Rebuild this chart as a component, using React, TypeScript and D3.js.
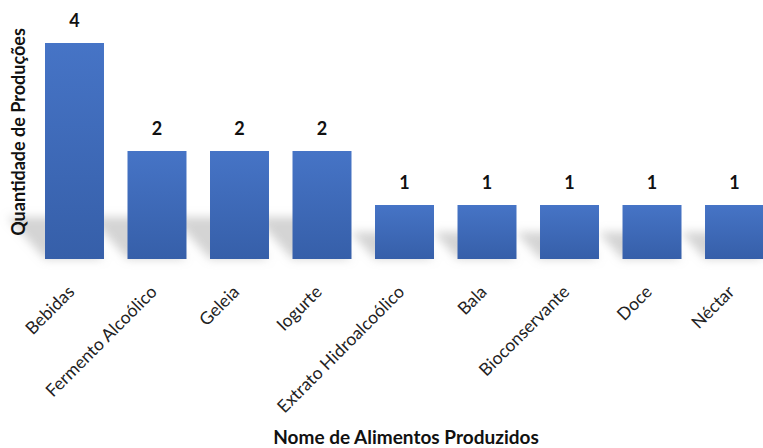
import React from "react";
import * as d3 from "d3";

const categories = ["Bebidas", "Fermento Alcoólico", "Geleia", "Iogurte", "Extrato Hidroalcoólico", "Bala", "Bioconservante", "Doce", "Néctar"];
const values = [4, 2, 2, 2, 1, 1, 1, 1, 1];
const yTitle = "Quantidade de Produções";
const xTitle = "Nome de Alimentos Produzidos";

const W = 763, H = 448;
const FONT = "Lato, 'Open Sans', sans-serif";

export default function App() {
  const x = d3.scaleBand<string>().domain(categories).range([45, 764]).paddingInner(0.285).paddingOuter(0);
  const y = d3.scaleLinear().domain([0, 4]).range([259, 43]);
  const base = y(0);
  return (
    <svg width={W} height={H} style={{ position: "absolute", left: 0, top: 0, background: "#fff" }}>
      <defs>
        <linearGradient id="barGrad" x1="0" y1="0" x2="0" y2="1">
          <stop offset="0%" stopColor="#4674c6" />
          <stop offset="100%" stopColor="#365fa9" />
        </linearGradient>
        <filter id="blur" x="-50%" y="-50%" width="200%" height="200%">
          <feGaussianBlur stdDeviation="5" />
        </filter>
      </defs>
      <g filter="url(#blur)">
        {categories.map((c, i) => {
          const x0 = x(c)!;
          const x1 = x0 + x.bandwidth();
          const h = base - y(values[i]);
          const sh = Math.min(h * 0.5, 42);
          const dx = sh * 0.9;
          return (
            <polygon key={c}
              points={`${x0},${base} ${x1},${base} ${x1 - dx},${base - sh} ${x0 - dx},${base - sh}`}
              fill="#a0a0a0" opacity={0.45} />
          );
        })}
      </g>
      {categories.map((c, i) => (
        <rect key={c} x={x(c)} y={y(values[i])} width={x.bandwidth()} height={base - y(values[i])} fill="url(#barGrad)" />
      ))}
      {categories.map((c, i) => (
        <text key={c} x={x(c)! + x.bandwidth() / 2} y={y(values[i]) - 16} textAnchor="middle"
          fontFamily={FONT} fontWeight="bold" fontSize={18} fill="#111">{values[i]}</text>
      ))}
      {categories.map((c) => {
        const cx = x(c)! + x.bandwidth() / 2 + 1;
        const cy = base + 34;
        return (
          <text key={c} transform={`translate(${cx},${cy}) rotate(-45)`} textAnchor="end"
            fontFamily={FONT} fontSize={17.5} fill="#222">{c}</text>
        );
      })}
      <text transform={`translate(25,132) rotate(-90)`} textAnchor="middle"
        fontFamily={FONT} fontWeight="bold" fontSize={18} fill="#111">{yTitle}</text>
      <text x={406} y={444} textAnchor="middle" fontFamily={FONT} fontWeight="bold" fontSize={19} fill="#111">{xTitle}</text>
    </svg>
  );
}
